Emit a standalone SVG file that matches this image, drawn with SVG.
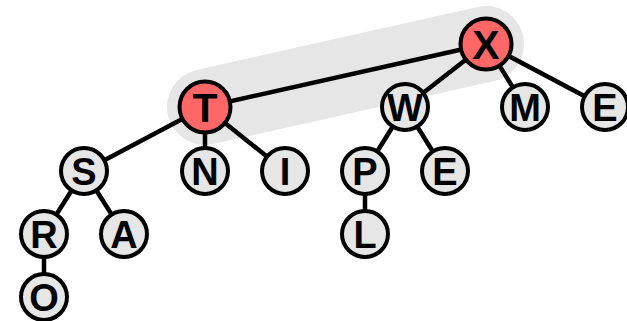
<svg xmlns="http://www.w3.org/2000/svg" width="627" height="321" viewBox="0 0 627 321">
<style>
.edge{stroke:#000;stroke-width:4.5;fill:none}
.n circle{fill:#e6e6e6;stroke:#000;stroke-width:4}
.h circle{fill:#ff6666;stroke:#000;stroke-width:4}
text{font-family:"Liberation Sans",Arial,sans-serif;font-weight:bold;text-anchor:middle;fill:#000}
.n text{font-size:38px}
.h text{font-size:41px}
</style>
<rect width="627" height="321" fill="#fff"/>
<line x1="205" y1="107" x2="486" y2="44" stroke="#e6e6e6" stroke-width="76" stroke-linecap="round"/>
<g id="edges">
<line class="edge" x1="486" y1="44" x2="205" y2="107"/>
<line class="edge" x1="486" y1="44" x2="405" y2="107"/>
<line class="edge" x1="486" y1="44" x2="525" y2="107"/>
<line class="edge" x1="486" y1="44" x2="605" y2="107"/>
<line class="edge" x1="205" y1="107" x2="84" y2="171"/>
<line class="edge" x1="205" y1="107" x2="205" y2="171"/>
<line class="edge" x1="205" y1="107" x2="285" y2="171"/>
<line class="edge" x1="405" y1="107" x2="365" y2="171"/>
<line class="edge" x1="405" y1="107" x2="445" y2="171"/>
<line class="edge" x1="84" y1="171" x2="44" y2="234"/>
<line class="edge" x1="84" y1="171" x2="124" y2="234"/>
<line class="edge" x1="44" y1="234" x2="44" y2="297"/>
<line class="edge" x1="365" y1="171" x2="365" y2="234"/>
</g>
<g id="X" class="h"><circle cx="486" cy="44" r="25.5"/><text x="486" y="58.5">X</text></g>
<g id="T" class="h"><circle cx="205" cy="107" r="25.5"/><text x="205" y="121.5">T</text></g>
<g id="W" class="n"><circle cx="405" cy="107" r="23"/><text x="405" y="120.5">W</text></g>
<g id="M" class="n"><circle cx="525" cy="107" r="23"/><text x="525" y="120.5">M</text></g>
<g id="E1" class="n"><circle cx="605" cy="107" r="23"/><text x="605" y="120.5">E</text></g>
<g id="S" class="n"><circle cx="84" cy="171" r="23"/><text x="84" y="184.5">S</text></g>
<g id="N" class="n"><circle cx="205" cy="171" r="23"/><text x="205" y="184.5">N</text></g>
<g id="I" class="n"><circle cx="285" cy="171" r="23"/><text x="285" y="184.5">I</text></g>
<g id="P" class="n"><circle cx="365" cy="171" r="23"/><text x="365" y="184.5">P</text></g>
<g id="E2" class="n"><circle cx="445" cy="171" r="23"/><text x="445" y="184.5">E</text></g>
<g id="R" class="n"><circle cx="44" cy="234" r="23"/><text x="44" y="247.5">R</text></g>
<g id="A" class="n"><circle cx="124" cy="234" r="23"/><text x="124" y="247.5">A</text></g>
<g id="L" class="n"><circle cx="365" cy="234" r="23"/><text x="365" y="247.5">L</text></g>
<g id="O" class="n"><circle cx="44" cy="297" r="23"/><text x="44" y="310.5">O</text></g>
</svg>
